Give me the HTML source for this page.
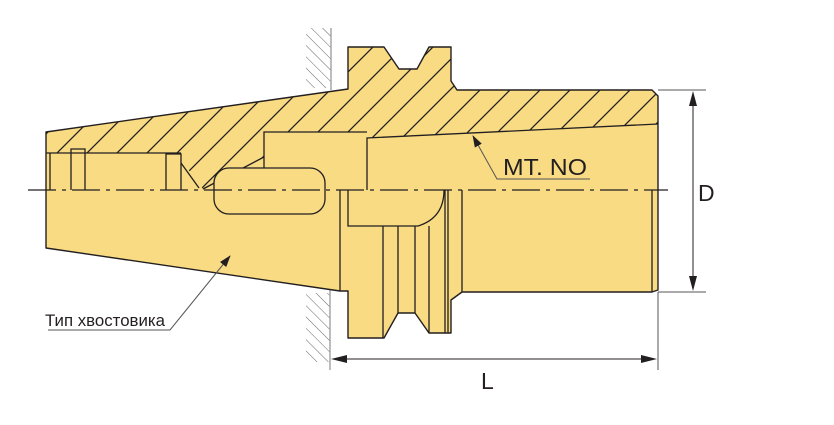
<!DOCTYPE html>
<html><head><meta charset="utf-8"><style>
html,body{margin:0;padding:0;background:#fff;}
svg{display:block;}
text{font-family:"Liberation Sans",sans-serif;fill:#231f20;}
</style></head><body>
<svg width="834" height="425" viewBox="0 0 834 425" xmlns="http://www.w3.org/2000/svg">
<defs>
<pattern id="h" patternUnits="userSpaceOnUse" width="30" height="30">
<path d="M-5,35 L35,-5 M-35,35 L5,-5 M25,35 L65,-5" stroke="#231f20" stroke-width="1.3"/>
</pattern>
<pattern id="w" patternUnits="userSpaceOnUse" width="8" height="8" patternTransform="rotate(-45)">
<line x1="0" y1="0" x2="0" y2="8" stroke="#666" stroke-width="1"/>
</pattern>
<marker id="a" markerWidth="12" markerHeight="8" refX="11" refY="4" orient="auto" markerUnits="userSpaceOnUse">
<path d="M0,0 L12,4 L0,8 Z" fill="#231f20"/></marker>
</defs>
<!-- wall -->
<rect x="306" y="28" width="25" height="60" fill="url(#w)"/>
<rect x="306" y="293" width="24" height="69" fill="url(#w)"/>
<line x1="331" y1="28" x2="331" y2="90" stroke="#999" stroke-width="1.3"/>
<line x1="330" y1="290" x2="330" y2="370" stroke="#999" stroke-width="1.3"/>
<!-- body fill -->
<path d="M46,132 L348,89 L348,47 L384,47 L399,69 L417,69 L429,47 L451,47 L451,81 L457,90 L652,90 L658,96 L658,290 L652,292 L462,292 L451,300 L451,333 L429,333 L415,313 L398,313 L384,338 L348,338 L348,291 L340,291 L46,248 Z" fill="#F8DB83" stroke="#231f20" stroke-width="1.4" stroke-linejoin="round"/>
<!-- hatched region -->
<path d="M46,132 L348,89 L348,47 L384,47 L399,69 L417,69 L429,47 L451,47 L451,81 L457,90 L652,90 L658,96 L658,124 L367,138 L367,132 L264,132 L264,157 L203,189 L181,160 L181,153 L46,153 Z" fill="url(#h)"/>
<g fill="none" stroke="#231f20" stroke-width="1.3">
<path d="M658,124 L367,138 L367,190"/>
<path d="M264,168 L264,132 L367,132"/>
<path d="M46,153 L181,153"/>
<path d="M50,153 V190"/>
<path d="M71,190 V149 H85 V190"/>
<path d="M166,190 V154 H181 V190"/>
<path d="M181,163 L199,188"/>
<path d="M203,189 L264,157"/>
<rect x="214" y="168" width="111" height="46" rx="15" fill="#F8DB83"/>
<path d="M340,190 V291"/>
<path d="M348,190 V226 H418 Q444,218 444,190"/>
<path d="M383,226 V338 M398,226 V313 M415,226 V313 M429,226 V333"/>
<path d="M445,190 V333 M448,190 V333 M462,190 V292 M652,190 V292"/>
</g>
<!-- centerline -->
<line x1="28" y1="190" x2="668" y2="190" stroke="#231f20" stroke-width="1.2" stroke-dasharray="28,6,4,6"/>
<!-- dimensions -->
<g stroke="#555" stroke-width="1">
<line x1="658" y1="90" x2="706" y2="90"/>
<line x1="658" y1="292" x2="706" y2="292"/>
<line x1="658" y1="292" x2="658" y2="370"/>
</g>
<line x1="693" y1="100" x2="693" y2="282" stroke="#231f20" stroke-width="1"/>
<path d="M693,91 L689,106 L697,106 Z M693,291 L689,276 L697,276 Z" fill="#231f20"/>
<line x1="340" y1="359" x2="648" y2="359" stroke="#231f20" stroke-width="1"/>
<path d="M331,359 L347,355 L347,363 Z M657,359 L641,355 L641,363 Z" fill="#231f20"/>
<text x="698" y="201" font-size="23">D</text>
<text x="481" y="389" font-size="23">L</text>
<!-- leaders -->
<path d="M48,330 L170,330 L230,256" fill="none" stroke="#555" stroke-width="1" marker-end="url(#a)"/>
<text x="45" y="326" font-size="17" textLength="120" lengthAdjust="spacingAndGlyphs">Тип хвостовика</text>
<path d="M590,179 L497,179 L473,136" fill="none" stroke="#555" stroke-width="1" marker-end="url(#a)"/>
<text x="503" y="175" font-size="23" textLength="84" lengthAdjust="spacingAndGlyphs">MT. NO</text>
</svg>
</body></html>
